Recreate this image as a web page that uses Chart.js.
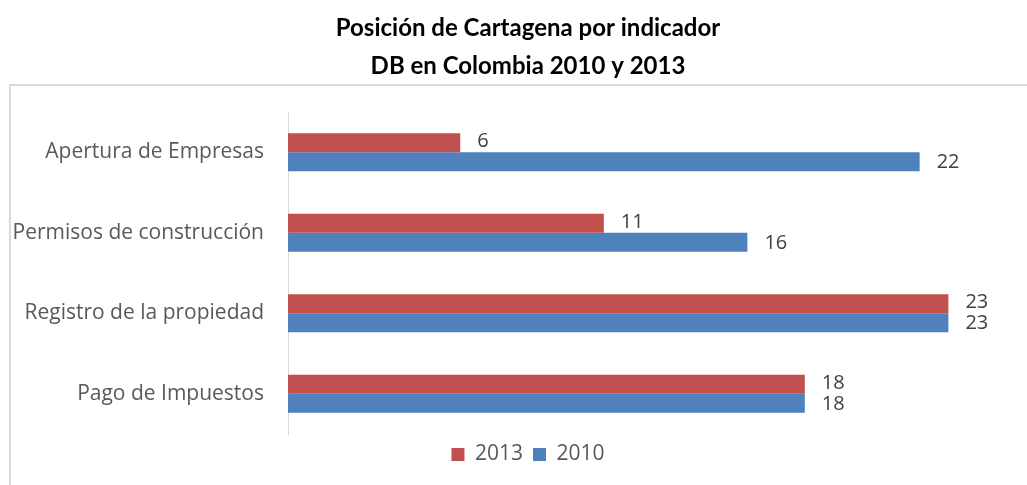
<!DOCTYPE html>
<html>
<head>
<meta charset="utf-8">
<script src="https://cdn.jsdelivr.net/npm/chart.js@4/dist/chart.umd.min.js"></script>
<style>
  html, body { margin:0; padding:0; background:#fff; overflow:hidden; width:1027px; height:485px; }
  #frame { position:absolute; left:9px; top:84px; width:1100px; height:500px; border:2px solid #d9d9d9; box-sizing:border-box; }
  #wrap { position:absolute; left:10px; top:0; width:1036px; height:485px; }
</style>
</head>
<body>
<div id="frame"></div>
<div id="wrap"><canvas id="c"></canvas></div>
<script>
const categories = ["Apertura de Empresas", "Permisos de construcción", "Registro de la propiedad", "Pago de Impuestos"];
const seriesNames = ["2013", "2010"];
const values2013 = [6, 11, 23, 18];
const values2010 = [22, 16, 23, 18];
const titleLines = ["Posición de Cartagena por indicador", "DB en Colombia 2010 y 2013"];

const TITLE_FONT = "Lato, 'Open Sans', sans-serif";
const FONT = "'Open Sans', Lato, sans-serif";

const valueLabels = {
  id: 'valueLabels',
  afterDatasetsDraw(chart) {
    const ctx = chart.ctx;
    ctx.save();
    ctx.font = "20px " + FONT;
    ctx.fillStyle = "#404040";
    ctx.textAlign = "left";
    ctx.textBaseline = "middle";
    chart.data.datasets.forEach((ds, i) => {
      const meta = chart.getDatasetMeta(i);
      meta.data.forEach((el, j) => {
        const off = i === 0 ? -1 : 1;
        ctx.fillText(String(ds.data[j]), el.x + 17, el.y + off);
      });
    });
    ctx.restore();
  }
};

new Chart(document.getElementById('c'), {
  type: 'bar',
  data: {
    labels: categories,
    datasets: [
      { label: seriesNames[0], data: values2013, backgroundColor: '#C0504D' },
      { label: seriesNames[1], data: values2010, backgroundColor: '#4F81BD' }
    ]
  },
  options: {
    indexAxis: 'y',
    responsive: true,
    maintainAspectRatio: false,
    animation: false,
    categoryPercentage: 0.47,
    barPercentage: 1.0,
    layout: { padding: { left: 0, right: 0, top: 0, bottom: 10 } },
    scales: {
      x: { display: false, min: 0, max: 26.4 },
      y: {
        grid: { display: false },
        border: { display: true, color: '#d9d9d9', width: 1 },
        ticks: { color: '#595959', font: { family: FONT, size: 21 }, padding: 16 },
        afterFit(scale) { scale.width = 278; }
      }
    },
    plugins: {
      title: {
        display: true,
        text: titleLines,
        color: '#000',
        font: { family: TITLE_FONT, size: 24, weight: 'bold', lineHeight: 1.5625 },
        padding: { top: 10, bottom: 27 }
      },
      legend: {
        position: 'bottom',
        labels: {
          color: '#595959',
          font: { family: FONT, size: 21 },
          boxWidth: 13, boxHeight: 13, padding: 10
        }
      },
      tooltip: { enabled: false }
    }
  },
  plugins: [valueLabels]
});
</script>
</body>
</html>
